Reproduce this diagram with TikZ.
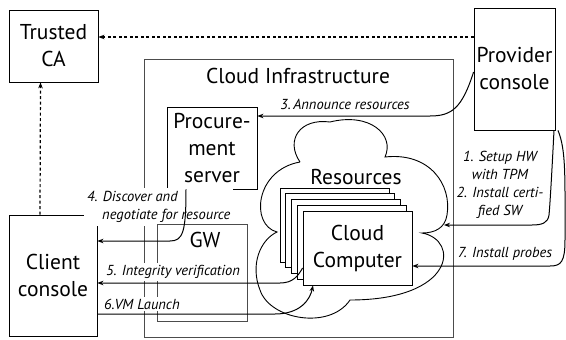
\documentclass[tikz,border=0pt]{standalone}
\usepackage{fontspec}
\setmainfont{PT Sans}
\usetikzlibrary{arrows.meta,calc,positioning}

\begin{document}
\begin{tikzpicture}[x=1pt,y=-1pt,
    every node/.style={font=\fontsize{21.5}{27}\selectfont},
    box/.style={draw,line width=0.8pt,fill=white,inner sep=0pt,align=center},
    frame/.style={draw=black!70,line width=0.8pt,inner sep=0pt},
    lbl/.style={font=\fontsize{14.5}{18}\selectfont\itshape,inner sep=2pt,align=center},
    flow/.style={line width=1pt,-{Stealth[length=6pt,width=4.5pt]}},
    trust/.style={line width=1.2pt,dash pattern=on 3pt off 2.5pt,-{Stealth[length=6pt,width=4.5pt]}}]
  \useasboundingbox (0,0) rectangle (566,340);
  % outside boxes
  \node[box,minimum width=89pt,minimum height=72pt] (ca) at (53.5,46) {Trusted\\CA};
  \node[box,minimum width=81pt,minimum height=122pt] (prov) at (514.5,69) {Provider\\console};
  \node[box,minimum width=88pt,minimum height=121pt] (client) at (53,275.5) {Client\\console};
  % cloud infrastructure
  \node[frame,minimum width=309pt,minimum height=278pt] (infra) at (298.5,198) {};
  \node (infratitle) at (298,76) {Cloud Infrastructure};
  \node[box,minimum width=90pt,minimum height=82pt] (proc) at (212,148) {Procure-\\ment\\server};
  \node[lbl,fill=white,anchor=west,align=left,inner sep=3pt] (lab4) at (84,207) {4. Discover and\\\hspace{15pt}negotiate for resource};
  \node[frame,minimum width=90pt,minimum height=97pt] (gw) at (202,272.5) {};
  \node (gwtitle) at (205,240) {GW};
  % resources
  \draw[line width=0.9pt] (300,162) .. controls (285,140) and (300,118) .. (330,122)
      .. controls (370,112) and (395,135) .. (385,157)
      .. controls (430,152) and (452,185) .. (447,215)
      .. controls (445,228) and (435,233) .. (422,233)
      .. controls (460,240) and (455,300) .. (350,300)
      .. controls (330,330) and (270,320) .. (260,290)
      .. controls (250,265) and (260,240) .. (277,232)
      .. controls (250,225) and (255,170) .. (300,162);
  \coordinate (cloudedge) at (444,225);
  \node (restitle) at (356,177) {Resources};
  \foreach \i in {0,...,3}
    \node[box,minimum width=109pt,minimum height=74pt] (vm\i) at ({357.5-5.75*(4-\i)},{248-5.75*(4-\i)}) {};
  \node[box,minimum width=109pt,minimum height=74pt] (cc) at (357.5,248) {Cloud\\Computer};
  % labels
  \node[lbl] (lab3) at (345,104) {3.\,Announce resources};
  \node[lbl,fill=white] (lab5) at (173,272) {5. Integrity verification};
  \node[lbl,fill=white,anchor=west] (lab6) at (102,304) {6.VM Launch};
  \node[lbl] (lab12) at (500,185) {1. Setup HW\\with TPM\\2. Install certi-\\fied SW};
  \node[lbl] (lab7) at (505,254) {7. Install probes};
  % trust links
  \coordinate (catop) at ([yshift=9pt]ca.east);
  \draw[trust] (prov.west |- catop) -- (catop);
  \draw[trust] ([xshift=-13pt]client.north) -- ([xshift=-13pt]ca.south);
  % steps
  \draw[flow] ([yshift=-3pt]prov.west) .. controls (462,108) and (452,116) .. (430,116) -- ([yshift=32pt]proc.east);
  \draw[flow,{Stealth[length=6pt,width=4.5pt]}-] ([yshift=34.5pt]client.east) -- (170,241)
      .. controls (183,241) and (186,232) .. ([xshift=-26pt]proc.south);
  \draw[flow,{Stealth[length=6pt,width=4.5pt]}-] ([yshift=-7.5pt]client.east) -- (280,283)
      .. controls (293,283) and (298,276) .. ([yshift=-20pt]cc.west);
  \draw[flow] ([yshift=-38.5pt]client.east) -- (275,314)
      .. controls (300,314) and (310,300) .. ([xshift=-44.5pt]cc.south);
  \draw[flow] ([xshift=39.5pt]prov.south) .. controls (552,170) and (550,205) .. (549,215)
      .. controls (548,223) and (542,225) .. (532,225) -- (cloudedge);
  \draw[flow] ([xshift=43.5pt]prov.south) .. controls (566,150) and (565,175) .. (565,240)
      .. controls (565,262) and (561,266) .. (550,266) -- ([yshift=-18pt]cc.east);
\end{tikzpicture}
\end{document}
